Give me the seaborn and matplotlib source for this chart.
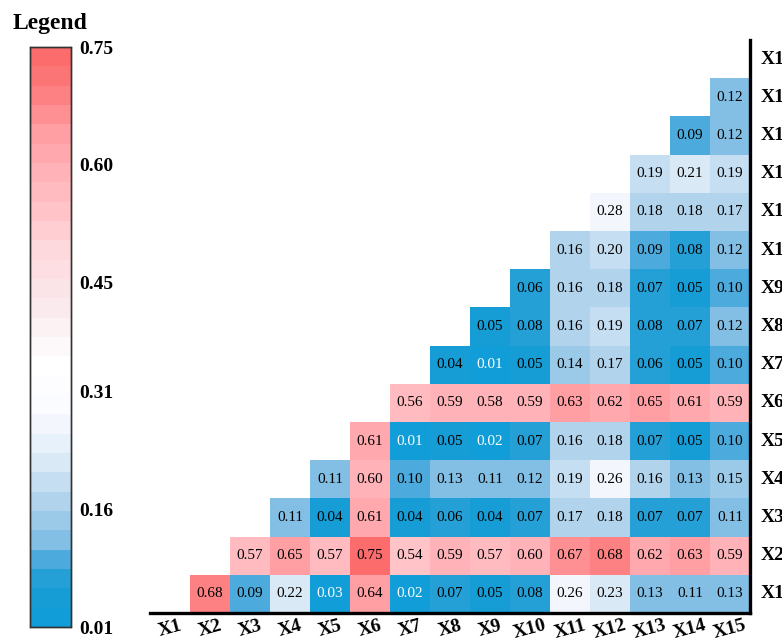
import numpy as np
import pandas as pd
import seaborn as sns
import matplotlib.pyplot as plt
from matplotlib.colors import LinearSegmentedColormap, ListedColormap

labels = ["X%d" % i for i in range(1, 16)]

# upper-triangle values, row Xi holds columns X(i+1)..X15
row_x1 = [0.68, 0.09, 0.22, 0.03, 0.64, 0.02, 0.07, 0.05, 0.08, 0.26, 0.23, 0.13, 0.11, 0.13]
row_x2 = [0.57, 0.65, 0.57, 0.75, 0.54, 0.59, 0.57, 0.60, 0.67, 0.68, 0.62, 0.63, 0.59]
row_x3 = [0.11, 0.04, 0.61, 0.04, 0.06, 0.04, 0.07, 0.17, 0.18, 0.07, 0.07, 0.11]
row_x4 = [0.11, 0.60, 0.10, 0.13, 0.11, 0.12, 0.19, 0.26, 0.16, 0.13, 0.15]
row_x5 = [0.61, 0.01, 0.05, 0.02, 0.07, 0.16, 0.18, 0.07, 0.05, 0.10]
row_x6 = [0.56, 0.59, 0.58, 0.59, 0.63, 0.62, 0.65, 0.61, 0.59]
row_x7 = [0.04, 0.01, 0.05, 0.14, 0.17, 0.06, 0.05, 0.10]
row_x8 = [0.05, 0.08, 0.16, 0.19, 0.08, 0.07, 0.12]
row_x9 = [0.06, 0.16, 0.18, 0.07, 0.05, 0.10]
row_x10 = [0.16, 0.20, 0.09, 0.08, 0.12]
row_x11 = [0.28, 0.18, 0.18, 0.17]
row_x12 = [0.19, 0.21, 0.19]
row_x13 = [0.09, 0.12]
row_x14 = [0.12]
row_x15 = []

rows = [row_x1, row_x2, row_x3, row_x4, row_x5, row_x6, row_x7, row_x8,
        row_x9, row_x10, row_x11, row_x12, row_x13, row_x14, row_x15]

cbar_ticks = [0.01, 0.16, 0.31, 0.45, 0.60, 0.75]

mat = np.full((15, 15), np.nan)
for i, r in enumerate(rows):
    for k, v in enumerate(r):
        mat[i, i + 1 + k] = v
df = pd.DataFrame(mat, index=labels, columns=labels).iloc[::-1]

nodes = [
    (0.01, (17, 157, 215)), (0.05, (25, 157, 213)), (0.08, (60, 166, 217)),
    (0.10, (120, 186, 227)), (0.16, (176, 211, 236)), (0.22, (222, 236, 246)),
    (0.28, (250, 251, 255)), (0.34, (255, 255, 255)), (0.42, (250, 234, 237)),
    (0.50, (253, 215, 220)), (0.55, (255, 194, 199)), (0.60, (255, 178, 183)),
    (0.65, (255, 158, 162)), (0.70, (253, 128, 130)), (0.75, (252, 108, 108)),
]
vmin, vmax = 0.01, 0.75
smooth = LinearSegmentedColormap.from_list(
    "bw_r", [((v - vmin) / (vmax - vmin), tuple(c / 255 for c in rgb)) for v, rgb in nodes])
cmap = ListedColormap(smooth(np.linspace(0, 1, 30)))

plt.rcParams['font.family'] = ['Liberation Serif', 'DejaVu Serif']

fig = plt.figure(figsize=(7.82, 6.38), dpi=100)
ax = fig.add_axes([150 / 782, 25 / 638, 600 / 782, 573 / 638])
cax = fig.add_axes([30 / 782, 11 / 638, 41 / 782, 580 / 638])

sns.heatmap(df, ax=ax, cmap=cmap, vmin=vmin, vmax=vmax, annot=True, fmt=".2f",
            annot_kws={"fontsize": 11, "color": "black"}, cbar_ax=cax,
            cbar_kws={"ticks": cbar_ticks})

for t in ax.texts:
    if float(t.get_text()) < 0.035:
        t.set_color("white")

ax.yaxis.tick_right()
ax.set_xlabel("")
ax.set_ylabel("")
ax.tick_params(axis="both", length=0, labelsize=14)
ax.tick_params(axis="x", pad=3)
ax.tick_params(axis="y", pad=8)
plt.setp(ax.get_xticklabels(), rotation=15, fontweight="bold")
plt.setp(ax.get_yticklabels(), rotation=0, fontweight="bold", va="center")

for side in ["bottom", "right"]:
    ax.spines[side].set_visible(True)
    ax.spines[side].set_linewidth(2.4)
    ax.spines[side].set_color("black")
for side in ["top", "left"]:
    ax.spines[side].set_visible(False)

cax.tick_params(length=0, labelsize=14, pad=6)
cax.set_yticklabels(["%.2f" % v for v in cbar_ticks], fontweight="bold")
for s in cax.spines.values():
    s.set_visible(True)
    s.set_linewidth(1.0)
    s.set_color("#333333")

fig.text(50 / 782, 1 - 23 / 638, "Legend", fontsize=17, fontweight="bold",
         ha="center", va="center")

fig.savefig("out.png", dpi=100)
